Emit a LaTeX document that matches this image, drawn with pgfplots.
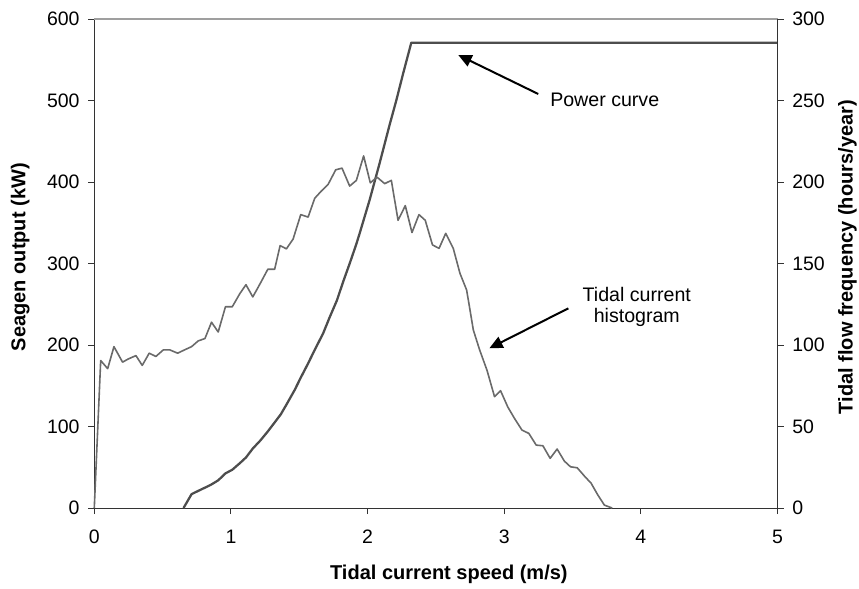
\documentclass[border=0pt]{standalone}
\usepackage{fontspec}
\setmainfont{Liberation Sans}
\usepackage{pgfplots}
\pgfplotsset{compat=1.18}
\usetikzlibrary{arrows.meta}
\definecolor{powc}{HTML}{4D4D4D}
\definecolor{histc}{HTML}{6A6A6A}
\definecolor{axc}{HTML}{333333}
\begin{document}
\begin{tikzpicture}
\useasboundingbox (-70.7pt,-60pt) rectangle (573.5pt,381pt);
\pgfplotsset{
  common/.style={
    scale only axis, width=512.4pt, height=366.75pt,
    xmin=0, xmax=5,
    /pgf/number format/assume math mode=true,
    tick label style={font=\fontsize{14.6}{17}\selectfont, text=black},
    label style={font=\bfseries\fontsize{15}{18}\selectfont},
    tick align=outside, major tick length=4.5pt,
    tick style={axc, line width=0.7pt},
    axis line style={axc, line width=0.8pt},
    clip=false,
  }
}
\begin{axis}[common,
  axis x line*=bottom, axis y line*=left,
  ymin=0, ymax=600, ytick={0,100,...,600}, xtick={0,1,2,3,4,5},
  xticklabel style={yshift=-8.5pt},
  yticklabel style={xshift=-3pt},
  xlabel={Tidal current speed (m/s)},
  ylabel={Seagen output (kW)},
  xlabel style={at={(axis description cs:0.519,-0.135)}, anchor=center},
  ylabel style={at={(axis description cs:-0.1083,0.513)}, anchor=center},
]
\draw[color=gray!75, line width=0.8pt] (rel axis cs:0,1) -- (rel axis cs:1,1);
\addplot[powc, line width=1.7pt, line join=round] coordinates {
(0.653,0) (0.712,17) (0.76,21) (0.81,25) (0.858,29) (0.907,34) (0.96,42.5)
(1.01,47) (1.065,55) (1.11,62) (1.16,73) (1.216,83) (1.27,94) (1.32,105)
(1.365,115) (1.41,128) (1.467,145) (1.511,160) (1.565,177.5) (1.613,194)
(1.674,214) (1.72,233) (1.776,255) (1.82,277) (1.869,300) (1.918,324)
(1.942,337) (2.015,378) (2.088,423) (2.161,470) (2.21,500) (2.26,533)
(2.32,571) (5,571)
};
\draw[-{Triangle[length=10pt,width=9pt]}, line width=1.5pt] (axis cs:3.249,508) -- (axis cs:2.664,555.8);
\node[anchor=west, inner sep=0pt, font=\fontsize{14.7}{15.5}\selectfont] at (axis cs:3.335,500.6) {Power curve};
\draw[-{Triangle[length=10pt,width=9pt]}, line width=1.5pt] (axis cs:3.469,245) -- (axis cs:2.891,196);
\node[align=center, inner sep=0pt, font=\fontsize{14.7}{15.5}\selectfont] at (axis cs:3.970,246.6) {Tidal current\\histogram};
\end{axis}
\begin{axis}[common,
  axis x line=none, axis y line*=right,
  ymin=0, ymax=300, ytick={0,50,...,300},
  yticklabel style={xshift=3pt},
  ylabel={Tidal flow frequency (hours/year)},
  ylabel style={at={(axis description cs:1.1025,0.513)}, anchor=center},
]
\addplot[histc, line width=1.2pt, line join=round] coordinates {
(0,0) (0.047,90.5) (0.098,85.5) (0.144,99) (0.207,89.5) (0.25,91.5)
(0.305,93.5) (0.351,87.5) (0.402,95) (0.451,93) (0.505,97) (0.553,97)
(0.61,95) (0.66,97) (0.712,99) (0.76,102.5) (0.81,104) (0.858,114)
(0.907,108) (0.96,123.5) (1.01,123.5) (1.065,131.5) (1.11,137) (1.16,129.5)
(1.216,138) (1.27,146.5) (1.32,146.5) (1.36,161) (1.406,159) (1.455,165)
(1.511,180) (1.565,178.5) (1.613,190) (1.662,194.5) (1.711,198.5)
(1.767,207.5) (1.813,208.5) (1.869,197.5) (1.918,201) (1.971,216)
(2.02,199.5) (2.069,203) (2.125,199) (2.174,201) (2.223,176.5)
(2.276,185.5) (2.325,169) (2.376,180) (2.422,176.5) (2.475,161.4)
(2.523,159.3) (2.572,168.5) (2.627,159.3) (2.676,144) (2.725,133.7)
(2.774,109.2) (2.82,97) (2.874,84.5) (2.929,68.3) (2.973,72) (3.026,62)
(3.075,55) (3.13,47.8) (3.18,45.8) (3.234,38.6) (3.283,38.2) (3.336,30.5)
(3.387,36.2) (3.44,28.8) (3.485,25.3) (3.534,24.7) (3.587,19.6)
(3.636,15.2) (3.685,8) (3.733,1.8) (3.79,0)
};
\end{axis}
\end{tikzpicture}
\end{document}
